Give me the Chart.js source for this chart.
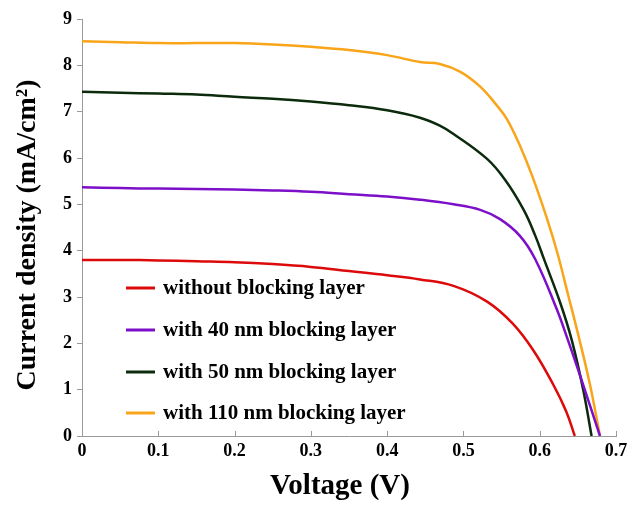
<!DOCTYPE html>
<html>
<head>
<meta charset="utf-8">
<script src="https://cdn.jsdelivr.net/npm/chart.js@4"></script>
<style>
  html, body { margin: 0; padding: 0; background: #fff; }
  #wrap { width: 639px; height: 505px; }
</style>
</head>
<body>
<div id="wrap"><canvas id="jv"></canvas></div>
<script>
// J-V curves, values
const seriesLabels = [
    'without blocking layer',
    'with 40 nm blocking layer',
    'with 50 nm blocking layer',
    'with 110 nm blocking layer'
];
const seriesColors = ['#dc0a0a', '#7d0fc8', '#0c2a0c', '#f9a51a'];

const vNone = [0, 0.05, 0.1, 0.15, 0.2, 0.25, 0.3, 0.35, 0.4, 0.443, 0.487, 0.531, 0.565, 0.592, 0.618, 0.635, 0.646];
const jNone = [3.80, 3.80, 3.79, 3.77, 3.75, 3.71, 3.65, 3.56, 3.47, 3.38, 3.24, 2.90, 2.42, 1.84, 1.10, 0.52, 0];

const v40 = [0, 0.05, 0.1, 0.15, 0.2, 0.25, 0.3, 0.35, 0.4, 0.443, 0.487, 0.522, 0.548, 0.574, 0.594, 0.622, 0.637, 0.653, 0.679];
const j40 = [5.37, 5.35, 5.34, 5.33, 5.32, 5.30, 5.27, 5.22, 5.17, 5.10, 5.00, 4.88, 4.68, 4.32, 3.82, 2.75, 2.07, 1.30, 0];

const v50 = [0, 0.05, 0.1, 0.15, 0.2, 0.25, 0.3, 0.35, 0.4, 0.443, 0.469, 0.487, 0.531, 0.555, 0.579, 0.594, 0.606, 0.627, 0.642, 0.657, 0.668];
const j50 = [7.43, 7.41, 7.39, 7.37, 7.32, 7.28, 7.22, 7.14, 7.03, 6.87, 6.70, 6.52, 5.98, 5.52, 4.88, 4.33, 3.80, 2.87, 2.07, 1.00, 0];

const v110 = [0, 0.05, 0.1, 0.15, 0.2, 0.25, 0.3, 0.35, 0.4, 0.443, 0.469, 0.496, 0.522, 0.544, 0.557, 0.574, 0.59, 0.609, 0.623, 0.637, 0.651, 0.666, 0.679];
const j110 = [8.52, 8.50, 8.48, 8.48, 8.48, 8.45, 8.40, 8.33, 8.22, 8.07, 8.03, 7.86, 7.54, 7.13, 6.84, 6.27, 5.62, 4.72, 3.96, 3.06, 2.15, 1.10, 0];

const xTickLabels = ['0', '0.1', '0.2', '0.3', '0.4', '0.5', '0.6', '0.7'];
const yTickLabels = ['0', '1', '2', '3', '4', '5', '6', '7', '8', '9'];

const xTitle = 'Voltage (V)';
const yTitle = 'Current density (mA/cm\u00B2)';

const serif = '"Liberation Serif", "DejaVu Serif", serif';
const axisGrey = '#9a9a9a';

function pts(vs, js) {
    return vs.map((v, i) => ({ x: v, y: js[i] }));
}

const allV = [vNone, v40, v50, v110];
const allJ = [jNone, j40, j50, j110];

// inward ticks on x axis, axis titles and the in-plot legend
const extras = {
    id: 'extras',
    afterDraw(chart) {
        const ctx = chart.ctx;
        const xs = chart.scales.x;
        const area = chart.chartArea;
        ctx.save();

        // small ticks pointing up from the x axis
        ctx.strokeStyle = axisGrey;
        ctx.lineWidth = 1;
        xs.ticks.forEach(t => {
            const px = Math.round(xs.getPixelForValue(t.value)) + 0.5;
            ctx.beginPath();
            ctx.moveTo(px, area.bottom);
            ctx.lineTo(px, area.bottom - 5);
            ctx.stroke();
        });

        // axis titles
        ctx.fillStyle = '#000';
        ctx.textAlign = 'center';
        ctx.textBaseline = 'middle';
        ctx.font = 'bold 29px ' + serif;
        ctx.fillText(xTitle, 340, 487);
        ctx.font = 'bold 28px ' + serif;
        ctx.translate(28, 235);
        ctx.rotate(-Math.PI / 2);
        ctx.fillText(yTitle, 0, 0);
        ctx.setTransform(1, 0, 0, 1, 0, 0);

        // legend
        const rows = [288, 330, 372, 413];
        ctx.font = 'bold 21px ' + serif;
        ctx.textAlign = 'left';
        chart.data.datasets.forEach((ds, i) => {
            ctx.strokeStyle = ds.borderColor;
            ctx.lineWidth = 3;
            ctx.beginPath();
            ctx.moveTo(126, rows[i]);
            ctx.lineTo(155, rows[i]);
            ctx.stroke();
            ctx.fillStyle = '#000';
            ctx.fillText(ds.label, 163, rows[i] + 1);
        });
        ctx.restore();
    }
};

new Chart(document.getElementById('jv'), {
    type: 'line',
    data: {
        datasets: seriesLabels.map((label, i) => ({
            label: label,
            data: pts(allV[i], allJ[i]),
            borderColor: seriesColors[i],
            backgroundColor: seriesColors[i],
            borderWidth: 2.5,
            pointRadius: 0,
            fill: false,
            tension: 0.4
        }))
    },
    options: {
        responsive: true,
        maintainAspectRatio: false,
        animation: false,
        layout: { padding: { top: 19, right: 23, left: 0, bottom: 0 } },
        plugins: {
            legend: { display: false },
            tooltip: { enabled: false }
        },
        scales: {
            x: {
                type: 'linear',
                min: 0,
                max: 0.7,
                afterFit: s => { s.height = 69; },
                afterBuildTicks: s => {
                    s.ticks = xTickLabels.map(l => ({ value: parseFloat(l) }));
                },
                ticks: {
                    callback: (v, i) => xTickLabels[i],
                    color: '#000',
                    font: { family: serif, size: 18, weight: 'bold' },
                    padding: 5,
                    maxRotation: 0
                },
                grid: { display: true, drawOnChartArea: false, drawTicks: false },
                border: { color: axisGrey, width: 1 }
            },
            y: {
                min: 0,
                max: 9,
                afterFit: s => { s.width = 82; },
                afterBuildTicks: s => {
                    s.ticks = yTickLabels.map(l => ({ value: parseFloat(l) }));
                },
                ticks: {
                    callback: (v, i) => yTickLabels[i],
                    color: '#000',
                    font: { family: serif, size: 18, weight: 'bold' },
                    padding: 5
                },
                grid: { drawOnChartArea: false, drawTicks: true, tickLength: 5, color: axisGrey },
                border: { color: axisGrey, width: 1 }
            }
        }
    },
    plugins: [extras]
});
</script>
</body>
</html>
